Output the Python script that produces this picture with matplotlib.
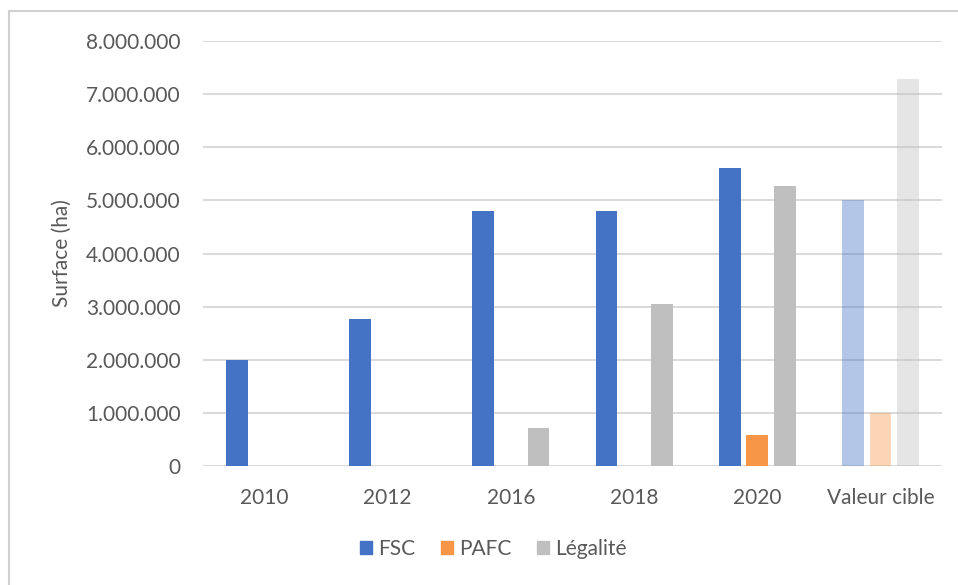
import numpy as np
import matplotlib.pyplot as plt
from matplotlib.colors import to_rgba
from matplotlib.lines import Line2D
from matplotlib.patches import Patch

plt.rcParams['font.family'] = ['Lato', 'DejaVu Sans']

categories = ['2010', '2012', '2016', '2018', '2020', 'Valeur cible']
fsc = [2000000, 2770000, 4800000, 4800000, 5610000, 5000000]
pafc = [np.nan, np.nan, np.nan, np.nan, 590000, 1000000]
legalite = [np.nan, np.nan, 720000, 3050000, 5270000, 7280000]
series = [('FSC', fsc, '#4472C4'), ('PAFC', pafc, '#F79646'), ('Légalité', legalite, '#BFBFBF')]

# the target column is drawn faded
alphas = [1, 1, 1, 1, 1, 0.4]

fig = plt.figure(figsize=(9.58, 5.85), dpi=100)
ax = fig.add_axes([203 / 958, 1 - 466 / 585, 739 / 958, 425 / 585])

x = np.arange(len(categories))
width = 0.177
step = 0.224
for i, (name, vals, col) in enumerate(series):
    cols = [to_rgba(col, a) for a in alphas]
    ax.bar(x + (i - 1) * step, vals, width, color=cols, zorder=3)

ax.set_xlim(-0.5, len(categories) - 0.5)
ax.set_ylim(0, 8000000)
ax.set_yticks(np.arange(0, 8000001, 1000000))
ax.set_yticklabels([f'{int(v):,}'.replace(',', '.') for v in ax.get_yticks()])
ax.set_xticks(x)
ax.set_xticklabels(categories)
ax.grid(axis='y', color='#d9d9d9', lw=1.4, zorder=0)
ax.tick_params(length=0, labelsize=15, colors='#595959', pad=16)
for s in ax.spines.values():
    s.set_visible(False)
ax.set_ylabel('Surface (ha)', fontsize=15, color='#595959')
ax.yaxis.set_label_coords(-0.177, 0.5)

handles = [Patch(color=c) for _, _, c in series]
fig.legend(handles, [n for n, _, _ in series], loc='center', bbox_to_anchor=(0.515, 0.062),
           ncol=3, frameon=False, fontsize=15, labelcolor='#595959',
           handlelength=0.6, handleheight=0.6, handletextpad=0.3, columnspacing=1.2)

# chart border (left and top edges visible)
fig.add_artist(Line2D([8.5 / 958, 8.5 / 958], [0, 1 - 11 / 585], color='#d0d0d0', lw=1.5))
fig.add_artist(Line2D([8.5 / 958, 1], [1 - 11 / 585, 1 - 11 / 585], color='#d0d0d0', lw=1.5))

fig.savefig('out.png', dpi=100)
